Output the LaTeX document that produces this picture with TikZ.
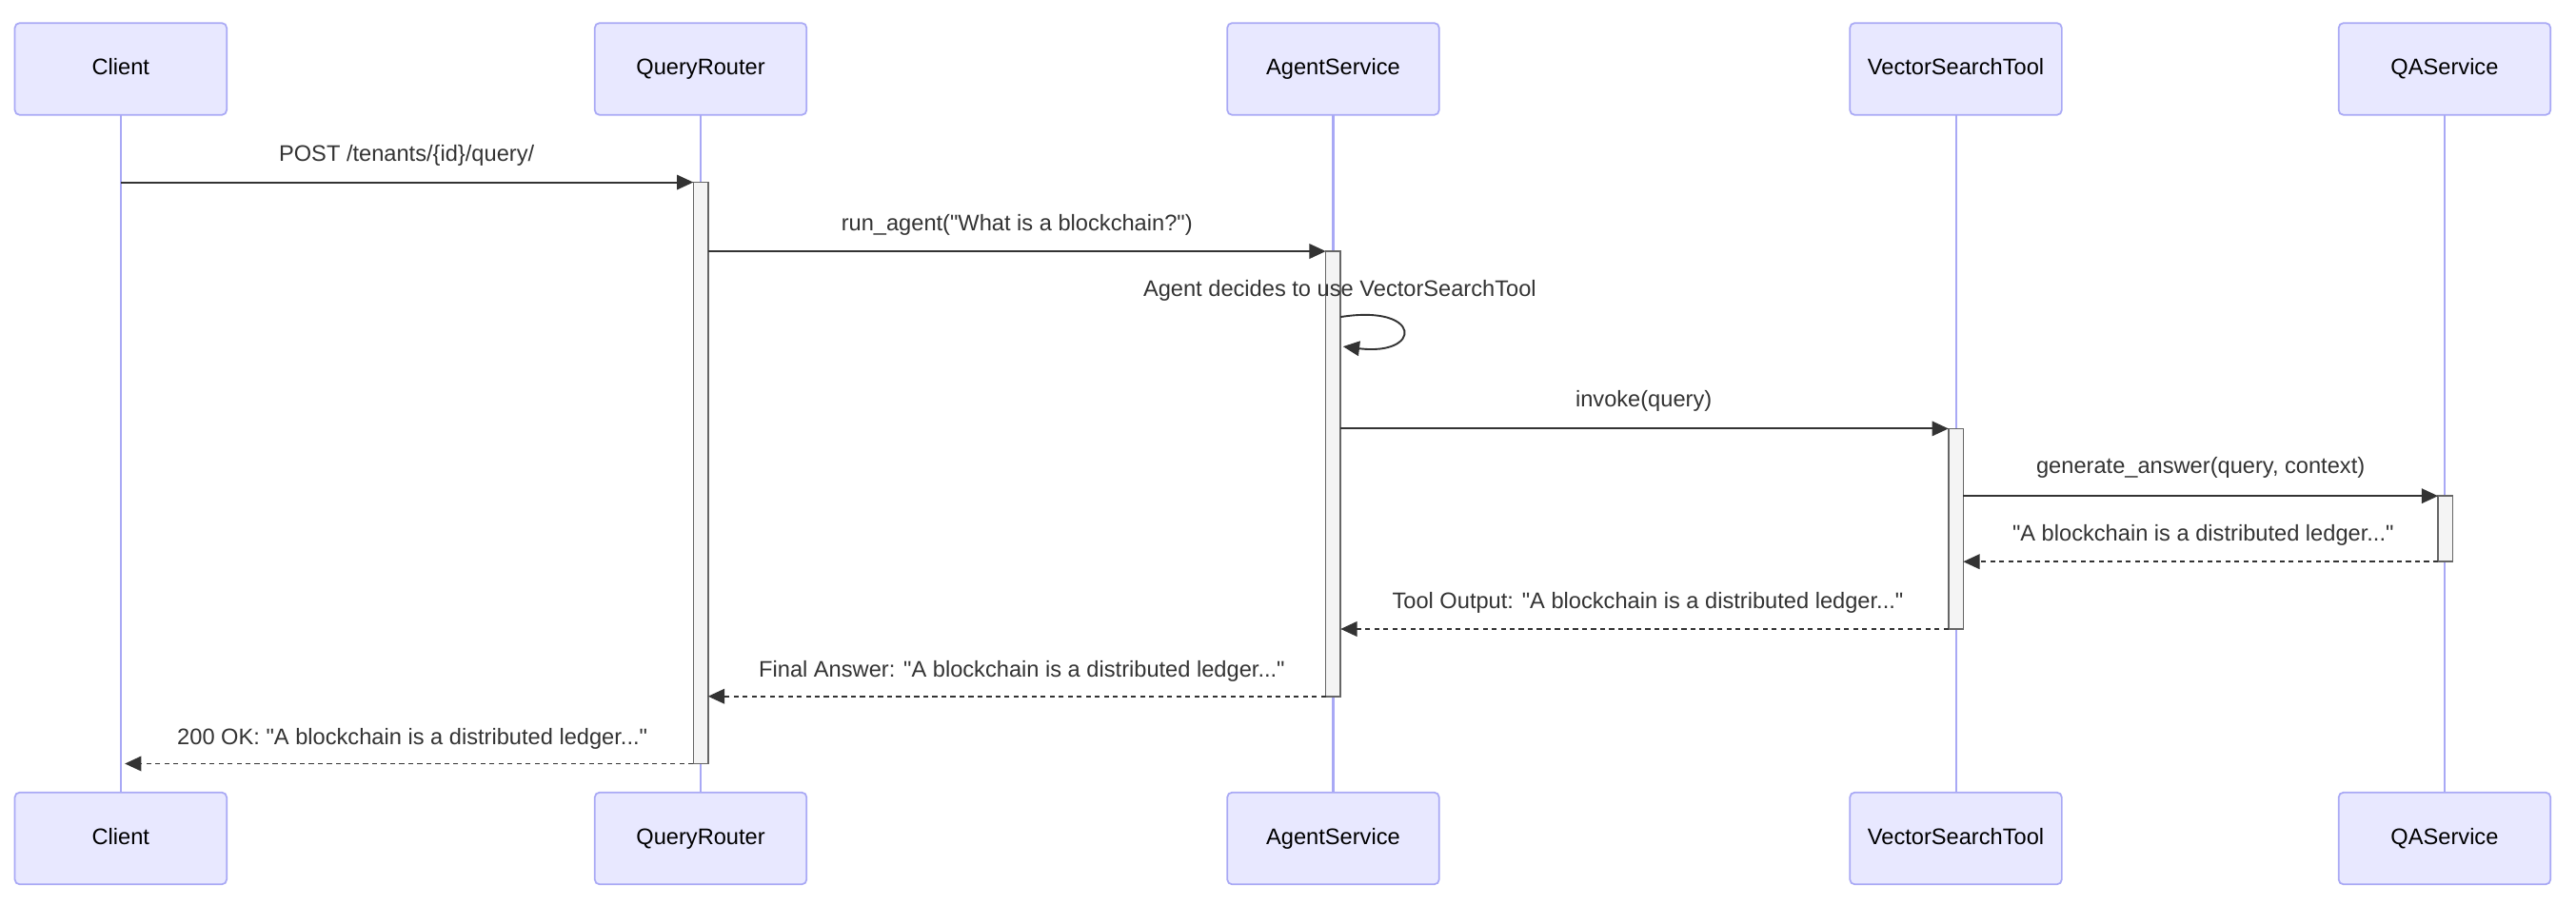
\documentclass[tikz,border=0pt]{standalone}
\usepackage{fontspec}
\setmainfont{Liberation Sans}
\usetikzlibrary{arrows.meta}
\newcommand{\dq}{\textquotedbl}
\definecolor{actfill}{HTML}{E8E8FF}
\definecolor{actline}{HTML}{A9A9F5}
\definecolor{lifec}{HTML}{A9A9F5}
\definecolor{msgc}{HTML}{333333}
\definecolor{actvfill}{HTML}{F4F4F4}
\definecolor{actvline}{HTML}{666666}
\tikzset{
  actorbox/.style={draw=actline, fill=actfill, line width=1pt, rounded corners=3pt,
    minimum width=129pt, minimum height=56pt, outer sep=0pt, inner sep=0pt,
    text height=10pt, text depth=3pt,
    font=\fontsize{13.7}{16}\selectfont, text=black},
  lifeline/.style={draw=lifec, line width=1.2pt},
  activ/.style={draw=actvline, fill=actvfill, line width=0.9pt, minimum width=9pt,
    inner sep=0pt, outer sep=0pt},
  msg/.style={draw=msgc, line width=1.1pt, -{Triangle[length=10pt,width=9pt]}},
  reply/.style={msg, dash pattern=on 3pt off 2.5pt},
  lbl/.style={font=\fontsize{13.7}{16}\selectfont, text=msgc, inner sep=0pt,
    text height=10pt, text depth=3pt}
}
\begin{document}
\begin{tikzpicture}[x=1pt,y=-1pt]
\useasboundingbox[fill=white] (0,0) rectangle (1568,550.5);
% actors top
\node[actorbox] (c1) at (73.5,42) {Client};
\node[actorbox] (q1) at (426.5,42) {QueryRouter};
\node[actorbox] (g1) at (811.5,42) {AgentService};
\node[actorbox] (v1) at (1190.5,42) {VectorSearchTool};
\node[actorbox] (s1) at (1488,42) {QAService};
% actors bottom
\node[actorbox] (c2) at (73.5,510.5) {Client};
\node[actorbox] (q2) at (426.5,510.5) {QueryRouter};
\node[actorbox] (g2) at (811.5,510.5) {AgentService};
\node[actorbox] (v2) at (1190.5,510.5) {VectorSearchTool};
\node[actorbox] (s2) at (1488,510.5) {QAService};
% lifelines
\draw[lifeline] (c1.south) -- (c2.north);
\draw[lifeline] (q1.south) -- (q2.north);
\draw[lifeline] (g1.south) -- (g2.north);
\draw[lifeline] (v1.south) -- (v2.north);
\draw[lifeline] (s1.south) -- (s2.north);
% activations
\node[activ, minimum height=354pt] (aQR) at (426.5,288) {};
\node[activ, minimum height=271pt] (aAG) at (811.5,288.5) {};
\node[activ, minimum height=122pt] (aVS) at (1190.5,322) {};
\node[activ, minimum height=40pt] (aQA) at (1488.5,322) {};
% messages
\draw[msg] (c1 |- aQR.north) -- (aQR.north west);
\node[lbl] (l1) at (247.5,95) {POST /tenants/\{id\}/query/};
\draw[msg] (aQR.east |- aAG.north) -- (aAG.north west);
\node[lbl] (l2) at (619,137) {run\_agent(\dq What is a blockchain?\dq)};
\node[lbl] (l3) at (815.5,177) {Agent decides to use VectorSearchTool};
\coordinate (sa) at (816,193);
\coordinate (sb) at (817.5,211);
\draw[msg] (sa) .. controls (866,185) and (866,217) .. (sb);
\draw[msg] (aAG.east |- aVS.north) -- (aVS.north west);
\node[lbl] (l4) at (1000.5,244) {invoke(query)};
\draw[msg] (aVS.east |- aQA.north) -- (aQA.north west);
\node[lbl] (l5) at (1339.5,285) {generate\_answer(query, context)};
\draw[reply] (aQA.south west) -- (aVS.east |- aQA.south);
\node[lbl] (l6) at (1341,326) {\dq A blockchain is a distributed ledger...\dq};
\draw[reply] (aVS.south west) -- (aAG.east |- aVS.south);
\node[lbl] (l7) at (1003,367) {Tool Output: \dq A blockchain is a distributed ledger...\dq};
\draw[reply] (aAG.south west) -- (aQR.east |- aAG.south);
\node[lbl] (l8) at (622,409) {Final Answer: \dq A blockchain is a distributed ledger...\dq};
\coordinate (ok) at ([xshift=2.5pt]c1 |- aQR.south);
\draw[reply] (aQR.south west) -- (ok);
\node[lbl] (l9) at (251,450) {200 OK: \dq A blockchain is a distributed ledger...\dq};
\end{tikzpicture}
\end{document}
